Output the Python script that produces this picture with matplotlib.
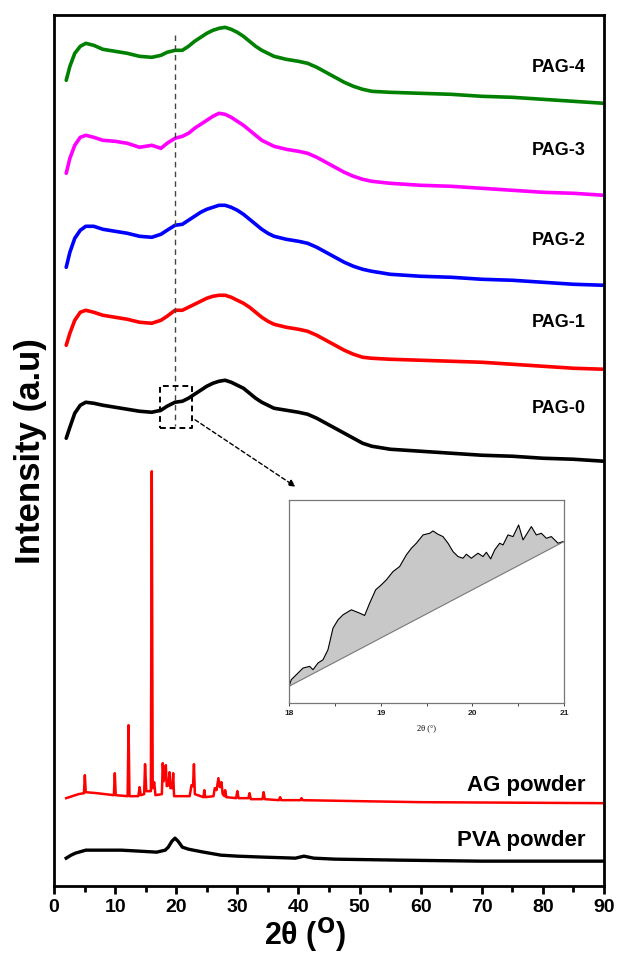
import numpy as np
import matplotlib
matplotlib.use("Agg")
import matplotlib.pyplot as plt
from matplotlib.ticker import MultipleLocator

plt.rcParams['font.family'] = ['Liberation Sans', 'DejaVu Sans']

# ---------------- data (stacked intensities, a.u.) ----------------
pag_x = [2.0, 2.6, 3.4, 4.3, 5.2, 6.5, 8, 10, 12, 14, 16, 17.5, 18.5, 19.8, 21, 22, 23, 24, 25,
         26, 27, 28, 29, 30, 31, 32, 33, 34, 35, 36, 38, 40, 41.5, 43, 44.5, 46, 47.5, 49,
         50.5, 52, 55, 60, 65, 70, 75, 80, 85, 90]

pag0_y = [448, 459, 473, 481, 484, 483, 481, 479, 477, 475, 474, 476, 480, 484, 485, 488, 492,
          496, 500, 503, 505, 506, 504, 501, 498, 493, 488, 484, 481, 478, 476, 474, 472, 468,
          463, 458, 453, 448, 443, 440, 437, 435, 433, 431, 430, 428, 427, 425]
pag1_y = [541, 553, 566, 574, 576, 574, 571, 569, 567, 564, 563, 566, 570, 576, 576, 579, 582,
          585, 588, 590, 591, 591, 589, 586, 583, 579, 574, 569, 565, 562, 559, 557, 555, 551,
          546, 541, 536, 532, 529, 528, 527, 526, 525, 524, 522, 520, 518, 517]
pag2_y = [619, 634, 648, 656, 660, 660, 657, 655, 653, 650, 649, 652, 656, 661, 662, 666, 670,
          674, 677, 679, 681, 681, 679, 676, 672, 667, 662, 657, 653, 650, 647, 645, 643, 639,
          634, 629, 624, 620, 617, 615, 612, 610, 609, 607, 606, 604, 602, 601]
pag3_y = [713, 728, 741, 749, 751, 749, 746, 745, 743, 739, 741, 738, 743, 748, 750, 753, 758,
          762, 766, 770, 773, 772, 769, 765, 761, 756, 751, 746, 743, 740, 737, 735, 733, 729,
          724, 719, 714, 710, 707, 705, 703, 701, 700, 698, 696, 694, 693, 691]
pag4_y = [806, 820, 833, 840, 843, 841, 837, 835, 833, 830, 829, 831, 834, 836, 836, 840, 845,
          849, 853, 856, 858, 859, 857, 854, 850, 845, 840, 836, 833, 830, 827, 825, 823, 819,
          814, 809, 804, 800, 797, 795, 794, 793, 792, 790, 789, 787, 785, 783]

pva_x = [2.0, 2.8, 3.5, 5.2, 8.0, 11.0, 14.0, 16.8, 18.2, 18.7, 19.3, 19.8, 20.3, 21.0, 22.0,
         22.8, 24.5, 27.3, 30.0, 34.4, 39.5, 40.9, 42.5, 46.0, 56.6, 70.0, 90.0]
pva_y = [28, 31, 33, 36, 36, 36, 35, 34, 36, 39, 45, 48, 45, 39, 37,
         36, 34, 31, 30, 29, 28, 30, 28, 27, 26, 25, 25]

ag_x = [2.0, 3.0, 4.0, 4.9, 5.05, 5.2, 7.0, 9.8, 9.95, 10.1, 12.05, 12.2, 12.35, 13.8, 14.0, 14.2,
        14.75, 14.9, 15.1, 15.85, 16.0, 16.15, 16.4, 16.6, 17.65, 17.8, 17.95, 18.15, 18.3, 18.45,
        18.75, 18.9, 19.05, 19.35, 19.5, 19.65, 22.2, 22.5, 22.75, 22.9, 23.05, 24.45, 24.6, 24.75,
        26.1, 26.3, 26.6, 26.9, 27.15, 27.4, 27.6, 27.9, 28.0, 28.2, 29.8, 30.0, 30.2, 31.8, 32.0,
        32.2, 34.1, 34.3, 34.5, 36.8, 37.0, 37.2, 40.3, 40.5, 40.7, 50.0, 60.0, 90.0]
ag_y = [88, 90, 92, 93, 111, 94, 93, 91, 113, 91, 90, 161, 90, 90, 99, 91,
        92, 122, 95, 95, 415, 98, 104, 91, 92, 123, 105, 110, 121, 100,
        101, 114, 98, 98, 113, 90, 90, 101, 100, 122, 92, 89, 96, 89,
        90, 98, 96, 108, 99, 104, 92, 90, 96, 89, 88, 95, 88, 88, 93,
        87, 87, 94, 87, 86, 89, 86, 86, 88, 86, 85, 84, 83]

series_names = ['PAG-0', 'PAG-1', 'PAG-2', 'PAG-3', 'PAG-4']
series_colors = ['black', '#ff0000', '#0000ff', '#ff00ff', '#008000']
label_y = [478, 564, 646, 736, 819]

# inset data (zoomed PAG-0 region 18-21 deg)
inset_x = [18.0, 18.007, 18.025, 18.08, 18.153, 18.225, 18.262, 18.316, 18.371, 18.425, 18.48,
           18.535, 18.589, 18.68, 18.771, 18.825, 18.88, 18.945, 19.007, 19.062, 19.135, 19.207,
           19.28, 19.335, 19.389, 19.462, 19.535, 19.571, 19.625, 19.68, 19.735, 19.789, 19.844,
           19.898, 19.935, 19.989, 20.062, 20.116, 20.153, 20.2, 20.244, 20.298, 20.335, 20.389,
           20.444, 20.505, 20.553, 20.644, 20.698, 20.753, 20.807, 20.862, 20.935, 20.989, 21.0]
inset_y = [50, 55, 70, 85, 105, 110, 100, 120, 130, 160, 225,
           250, 265, 280, 270, 263, 300, 340, 355, 370, 395, 410,
           445, 465, 480, 505, 510, 517, 507, 500, 480, 455, 440,
           435, 447, 435, 450, 440, 453, 433, 460, 480, 475, 505,
           500, 535, 490, 530, 505, 510, 495, 500, 480, 485, 485]
inset_base_x = [18.0, 21.0]
inset_base_y = [50, 485]

xticks = [0, 10, 20, 30, 40, 50, 60, 70, 80, 90]

# ---------------- figure ----------------
fig = plt.figure(figsize=(6.17, 9.58), dpi=100)
ax = fig.add_axes([0.0875, 0.075, 0.8915, 0.909])

lw = 2.6
for y, c in zip([pag0_y, pag1_y, pag2_y, pag3_y, pag4_y], series_colors):
    ax.plot(pag_x, y, color=c, lw=lw, solid_joinstyle='round', solid_capstyle='round')
ax.plot(ag_x, ag_y, color='#ff0000', lw=1.8)
ax.plot(pva_x, pva_y, color='black', lw=2.4, solid_joinstyle='round')

for name, yy in zip(series_names, label_y):
    ax.text(87, yy, name, ha='right', va='center', fontsize=13, fontweight='bold')
ax.text(87, 101, 'AG powder', ha='right', va='center', fontsize=16, fontweight='bold')
ax.text(87, 46, 'PVA powder', ha='right', va='center', fontsize=16, fontweight='bold')

# dashed guide, box and arrow
ax.plot([19.8, 19.8], [851, 460], color='#444444', lw=1.0, ls=(0, (4, 3)))
ax.plot([17.3, 22.6, 22.6, 17.3, 17.3], [458, 458, 500, 500, 458], color='black',
        lw=1.4, ls=(0, (3, 2)))
ax.annotate('', xy=(39.9, 398), xytext=(22.7, 468),
            arrowprops=dict(arrowstyle='-|>', color='black', lw=1.0, ls=(0, (3, 2)),
                            mutation_scale=10))

ax.set_xlim(0, 90)
ax.set_ylim(0, 871)
ax.set_xticks(xticks)
ax.xaxis.set_minor_locator(MultipleLocator(5))
ax.set_yticks([])
ax.tick_params(axis='x', which='major', direction='out', length=6, width=2, pad=3)
ax.tick_params(axis='x', which='minor', direction='out', length=4, width=2)
for lab in ax.get_xticklabels():
    lab.set_fontweight('bold')
    lab.set_fontsize(14)
for s in ax.spines.values():
    s.set_linewidth(2)

ax.set_xlabel('2θ ($^{\\mathbf{O}}$)', fontsize=22, fontweight='bold', labelpad=0)
ax.xaxis.set_label_coords(0.456, -0.034, transform=ax.transAxes)
ax.xaxis.label.set_va('top')
ax.set_ylabel('Intensity (a.u)', fontsize=25, fontweight='bold', labelpad=5)

# ---------------- inset ----------------
axin = fig.add_axes([0.4684, 0.2662, 0.4457, 0.2119])
axin.fill(inset_x + inset_base_x[::-1], inset_y + inset_base_y[::-1], color='#c8c8c8', lw=0)
axin.plot(inset_x, inset_y, color='black', lw=0.8)
axin.plot(inset_base_x, inset_base_y, color='#777777', lw=0.8)
axin.set_xlim(18, 21)
axin.set_ylim(0, 610)
axin.set_xticks([18, 19, 20, 21])
axin.xaxis.set_minor_locator(MultipleLocator(0.5))
axin.set_yticks([])
axin.tick_params(axis='x', which='both', direction='out', length=2, width=0.6, pad=3,
                 labelsize=6, colors='#222222')
for lab in axin.get_xticklabels():
    lab.set_fontweight('bold')
for s in axin.spines.values():
    s.set_linewidth(0.9)
    s.set_color('#777777')
axin.set_xlabel('2θ (°)', fontsize=6, family=['Liberation Serif', 'DejaVu Serif'], labelpad=5)

fig.savefig('out.png', dpi=100)
